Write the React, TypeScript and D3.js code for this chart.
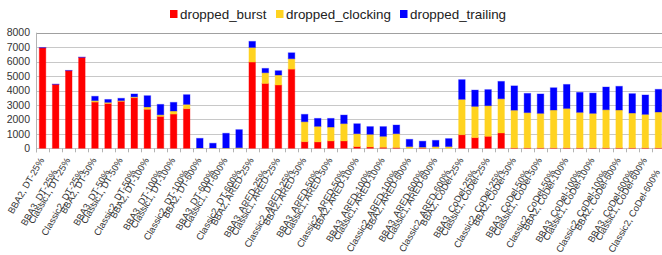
import { useMemo } from "react";
import * as d3 from "d3";

const CATEGORIES = [
  "BBA2, DT-25%", "BBA3, DT-25%", "Classic1, DT-25%", "Classic2, DT-25%",
  "BBA2, DT-50%", "BBA3, DT-50%", "Classic1, DT-50%", "Classic2, DT-50%",
  "BBA2, DT-100%", "BBA3, DT-100%", "Classic1, DT-100%", "Classic2, DT-100%",
  "BBA2, DT-600%", "BBA3, DT-600%", "Classic1, DT-600%", "Classic2, DT-600%",
  "BBA2, ARED-25%", "BBA3, ARED-25%", "Classic1, ARED-25%", "Classic2, ARED-25%",
  "BBA2, ARED-50%", "BBA3, ARED-50%", "Classic1, ARED-50%", "Classic2, ARED-50%",
  "BBA2, ARED-100%", "BBA3, ARED-100%", "Classic1, ARED-100%", "Classic2, ARED-100%",
  "BBA2, ARED-600%", "BBA3, ARED-600%", "Classic1, ARED-600%", "Classic2, ARED-600%",
  "BBA2, CoDel-25%", "BBA3, CoDel-25%", "Classic1, CoDel-25%", "Classic2, CoDel-25%",
  "BBA2, CoDel-50%", "BBA3, CoDel-50%", "Classic1, CoDel-50%", "Classic2, CoDel-50%",
  "BBA2, CoDel-100%", "BBA3, CoDel-100%", "Classic1, CoDel-100%", "Classic2, CoDel-100%",
  "BBA2, CoDel-600%", "BBA3, CoDel-600%", "Classic1, CoDel-600%", "Classic2, CoDel-600%",
];

const DROPPED_BURST = [
  6950, 4420, 5370, 6290, 3200, 3100, 3250, 3500, 2700, 2210, 2370, 2740, 0, 0, 0, 0,
  5970, 4490, 4380, 5480, 460, 440, 510, 510, 120, 90, 70, 50, 0, 20, 0, 0,
  940, 740, 830, 1060, 30, 30, 30, 30, 30, 30, 30, 30, 30, 30, 30, 30,
];

const DROPPED_CLOCKING = [
  0, 0, 0, 0, 100, 80, 50, 60, 160, 110, 210, 300, 20, 20, 20, 40,
  1010, 740, 690, 720, 1380, 1080, 960, 1200, 890, 880, 760, 960, 120, 60, 120, 120,
  2450, 2160, 2120, 2370, 2610, 2440, 2390, 2620, 2730, 2460, 2390, 2640, 2620, 2410, 2320, 2480,
];

const DROPPED_TRAILING = [
  20, 20, 20, 20, 300, 200, 160, 200, 780, 720, 600, 670, 670, 330, 1020, 1250,
  420, 300, 300, 410, 510, 550, 600, 590, 690, 530, 670, 600, 500, 410, 430, 550,
  1360, 1130, 1110, 1200, 1680, 1330, 1340, 1540, 1660, 1380, 1400, 1570, 1640, 1340, 1340, 1570,
];

const SERIES = ["dropped_burst", "dropped_clocking", "dropped_trailing"];
const COLORS = ["#ff0000", "#ffd320", "#0000ff"];
const Y_TICKS = [0, 1000, 2000, 3000, 4000, 5000, 6000, 7000, 8000];

const W = 662;
const H = 255;
const FONT = "'Liberation Sans', Arial, sans-serif";

export default function App() {
  const left = 36;
  const right = 665;
  const top = 32.7;
  const bottom = 148.3;

  const rows = useMemo(
    () =>
      CATEGORIES.map((c, i) => ({
        cat: c,
        dropped_burst: DROPPED_BURST[i],
        dropped_clocking: DROPPED_CLOCKING[i],
        dropped_trailing: DROPPED_TRAILING[i],
      })),
    []
  );

  const stacked = d3.stack<any>().keys(SERIES)(rows);

  const x = d3.scaleBand().domain(CATEGORIES).range([left, right]).paddingInner(0.5).paddingOuter(0.25);
  const y = d3.scaleLinear().domain([0, 8000]).range([bottom, top]);
  const step = x.step();
  const color = d3.scaleOrdinal<string>().domain(SERIES).range(COLORS);

  // legend layout
  const legendItems = [
    { key: "dropped_burst", x: 170 },
    { key: "dropped_clocking", x: 276 },
    { key: "dropped_trailing", x: 400 },
  ];

  return (
    <svg width={W} height={H} style={{ position: "absolute", left: 0, top: 0, background: "#fff" }} fontFamily={FONT}>
      {/* grid */}
      {Y_TICKS.map((t) => (
        <line key={t} x1={left} x2={W} y1={Math.round(y(t)) + 0.5} y2={Math.round(y(t)) + 0.5}
          stroke={t === 8000 ? "#a0a0a0" : "#c8c8c8"} strokeWidth={1} />
      ))}
      {/* y labels */}
      {Y_TICKS.map((t) => (
        <text key={t} x={30} y={y(t)} dy="0.35em" textAnchor="end" fontSize={10.5} fill="#333">{t}</text>
      ))}
      {/* y axis */}
      <line x1={left + 0.5} x2={left + 0.5} y1={top} y2={bottom + 4} stroke="#b3b3b3" />
      {/* x ticks */}
      {d3.range(CATEGORIES.length + 1).map((i) => {
        const xx = Math.round(left + i * step) + 0.5;
        return <line key={i} x1={xx} x2={xx} y1={bottom} y2={bottom + 4} stroke="#b3b3b3" />;
      })}
      {/* bars */}
      {stacked.map((s) => (
        <g key={s.key} fill={color(s.key)} stroke={color(s.key)} strokeOpacity={0.35} strokeWidth={1}>
          {s.map((d, i) => {
            const h = y(d[0]) - y(d[1]);
            if (h <= 0) return null;
            return <rect key={i} x={x(CATEGORIES[i])} y={y(d[1])} width={x.bandwidth()} height={h} />;
          })}
        </g>
      ))}
      {/* x labels, staggered */}
      {CATEGORIES.map((c, i) => {
        const cx = (x(c) ?? 0) + x.bandwidth() / 2 + 2;
        const cy = i % 2 === 0 ? 160 : 172;
        return (
          <text key={c} x={cx} y={cy} textAnchor="end" fontSize={9.4} fill="#333"
            transform={`rotate(-60, ${cx}, ${cy})`}>{c}</text>
        );
      })}
      {/* legend */}
      {legendItems.map((l) => (
        <g key={l.key}>
          <rect x={l.x} y={10} width={7.5} height={8} fill={color(l.key)} />
          <text x={l.x + 10} y={14} dy="0.35em" fontSize={13.4} fill="#222">{l.key}</text>
        </g>
      ))}
    </svg>
  );
}
